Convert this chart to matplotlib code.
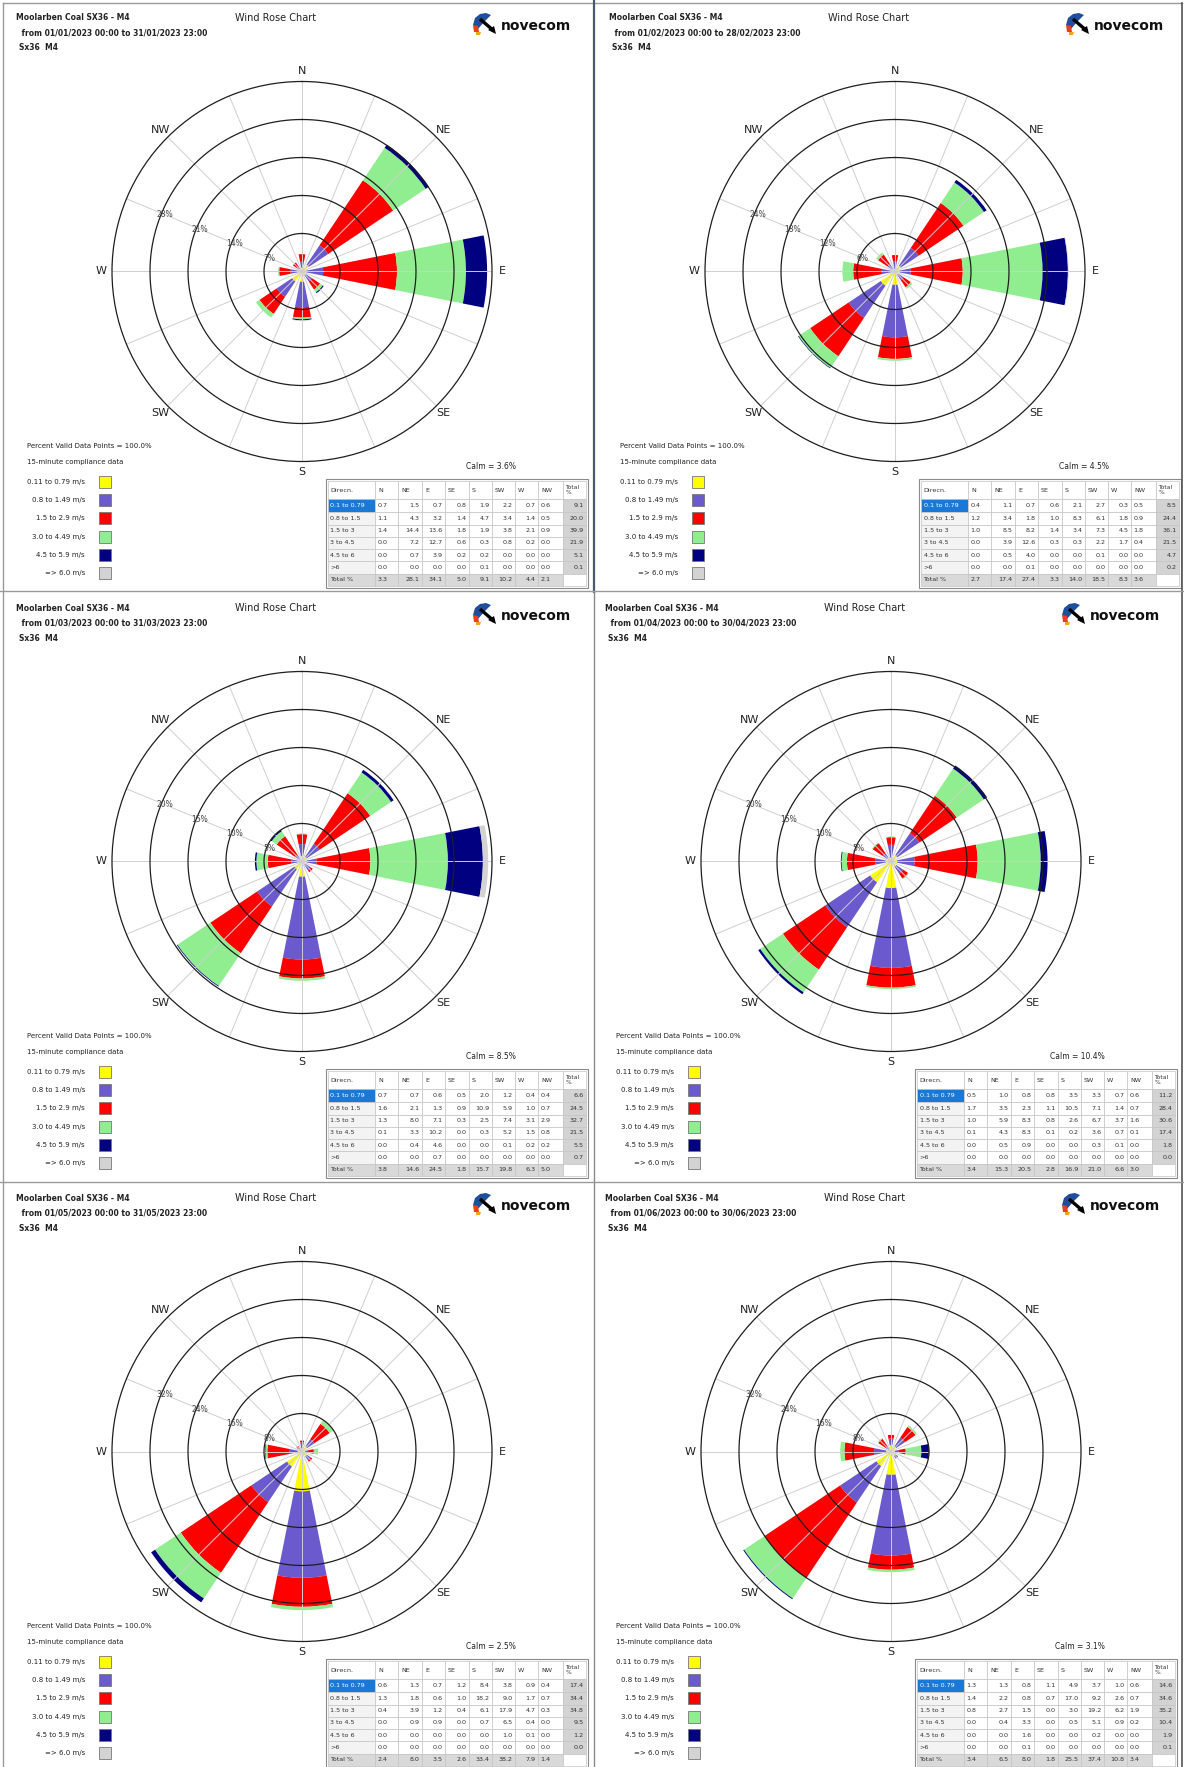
import numpy as np
import matplotlib.pyplot as plt
from matplotlib.patches import Rectangle, Polygon

# figure size in pixels
W, H = 1184, 1767

directions = ["N", "NE", "E", "SE", "S", "SW", "W", "NW"]
bearings = [0, 45, 90, 135, 180, 225, 270, 315]
speed_rows = ["0.1 to 0.79", "0.8 to 1.5", "1.5 to 3", "3 to 4.5", "4.5 to 6", ">6"]
legend_labels = ["0.11 to 0.79 m/s", "0.8 to 1.49 m/s", "1.5 to 2.9 m/s",
                 "3.0 to 4.49 m/s", "4.5 to 5.9 m/s", "=> 6.0 m/s"]
speed_colors = ["#ffff00", "#6a5acd", "#ff0000", "#90ee90", "#000080", "#d3d3d3"]

periods = ["01/01/2023 00:00 to 31/01/2023 23:00",
           "01/02/2023 00:00 to 28/02/2023 23:00",
           "01/03/2023 00:00 to 31/03/2023 23:00",
           "01/04/2023 00:00 to 30/04/2023 23:00",
           "01/05/2023 00:00 to 31/05/2023 23:00",
           "01/06/2023 00:00 to 30/06/2023 23:00"]
calm = [3.6, 4.5, 8.5, 10.4, 2.5, 3.1]
ring_step = [7, 6, 5, 5, 8, 8]

# % frequency, rows = speed classes, cols = N NE E SE S SW W NW
jan = [[0.7, 1.5, 0.7, 0.8, 1.9, 2.2, 0.7, 0.6],
       [1.1, 4.3, 3.2, 1.4, 4.7, 3.4, 1.4, 0.5],
       [1.4, 14.4, 13.6, 1.8, 1.9, 3.8, 2.1, 0.9],
       [0.0, 7.2, 12.7, 0.6, 0.3, 0.8, 0.2, 0.0],
       [0.0, 0.7, 3.9, 0.2, 0.2, 0.0, 0.0, 0.0],
       [0.0, 0.0, 0.0, 0.0, 0.1, 0.0, 0.0, 0.0]]
jan_row_tot = [9.1, 20.0, 39.9, 21.9, 5.1, 0.1]
jan_col_tot = [3.3, 28.1, 34.1, 5.0, 9.1, 10.2, 4.4, 2.1]

feb = [[0.4, 1.1, 0.7, 0.6, 2.1, 2.7, 0.3, 0.5],
       [1.2, 3.4, 1.8, 1.0, 8.3, 6.1, 1.8, 0.9],
       [1.0, 8.5, 8.2, 1.4, 3.4, 7.3, 4.5, 1.8],
       [0.0, 3.9, 12.6, 0.3, 0.3, 2.2, 1.7, 0.4],
       [0.0, 0.5, 4.0, 0.0, 0.0, 0.1, 0.0, 0.0],
       [0.0, 0.0, 0.1, 0.0, 0.0, 0.0, 0.0, 0.0]]
feb_row_tot = [8.5, 24.4, 36.1, 21.5, 4.7, 0.2]
feb_col_tot = [2.7, 17.4, 27.4, 3.3, 14.0, 18.5, 8.3, 3.6]

mar = [[0.7, 0.7, 0.6, 0.5, 2.0, 1.2, 0.4, 0.4],
       [1.6, 2.1, 1.3, 0.9, 10.9, 5.9, 1.0, 0.7],
       [1.3, 8.0, 7.1, 0.3, 2.5, 7.4, 3.1, 2.9],
       [0.1, 3.3, 10.2, 0.0, 0.3, 5.2, 1.5, 0.8],
       [0.0, 0.4, 4.6, 0.0, 0.0, 0.1, 0.2, 0.2],
       [0.0, 0.0, 0.7, 0.0, 0.0, 0.0, 0.0, 0.0]]
mar_row_tot = [6.6, 24.5, 32.7, 21.5, 5.5, 0.7]
mar_col_tot = [3.8, 14.6, 24.5, 1.8, 15.7, 19.8, 6.3, 5.0]

apr = [[0.5, 1.0, 0.8, 0.8, 3.5, 3.3, 0.7, 0.6],
       [1.7, 3.5, 2.3, 1.1, 10.5, 7.1, 1.4, 0.7],
       [1.0, 5.9, 8.3, 0.8, 2.6, 6.7, 3.7, 1.6],
       [0.1, 4.3, 8.3, 0.1, 0.2, 3.6, 0.7, 0.1],
       [0.0, 0.5, 0.9, 0.0, 0.0, 0.3, 0.1, 0.0],
       [0.0, 0.0, 0.0, 0.0, 0.0, 0.0, 0.0, 0.0]]
apr_row_tot = [11.2, 28.4, 30.6, 17.4, 1.8, 0.0]
apr_col_tot = [3.4, 15.3, 20.5, 2.8, 16.9, 21.0, 6.6, 3.0]

may = [[0.6, 1.3, 0.7, 1.2, 8.4, 3.8, 0.9, 0.4],
       [1.3, 1.8, 0.6, 1.0, 18.2, 9.0, 1.7, 0.7],
       [0.4, 3.9, 1.2, 0.4, 6.1, 17.9, 4.7, 0.3],
       [0.0, 0.9, 0.9, 0.0, 0.7, 6.5, 0.4, 0.0],
       [0.0, 0.0, 0.0, 0.0, 0.0, 1.0, 0.1, 0.0],
       [0.0, 0.0, 0.0, 0.0, 0.0, 0.0, 0.0, 0.0]]
may_row_tot = [17.4, 34.4, 34.8, 9.5, 1.2, 0.0]
may_col_tot = [2.4, 8.0, 3.5, 2.6, 33.4, 38.2, 7.9, 1.4]

jun = [[1.3, 1.3, 0.8, 1.1, 4.9, 3.7, 1.0, 0.6],
       [1.4, 2.2, 0.8, 0.7, 17.0, 9.2, 2.6, 0.7],
       [0.8, 2.7, 1.5, 0.0, 3.0, 19.2, 6.2, 1.9],
       [0.0, 0.4, 3.3, 0.0, 0.5, 5.1, 0.9, 0.2],
       [0.0, 0.0, 1.6, 0.0, 0.0, 0.2, 0.0, 0.0],
       [0.0, 0.0, 0.1, 0.0, 0.0, 0.0, 0.0, 0.0]]
jun_row_tot = [14.6, 34.6, 35.2, 10.4, 1.9, 0.1]
jun_col_tot = [3.4, 6.5, 8.0, 1.8, 25.5, 37.4, 10.8, 3.4]

months = [(jan, jan_row_tot, jan_col_tot), (feb, feb_row_tot, feb_col_tot),
          (mar, mar_row_tot, mar_col_tot), (apr, apr_row_tot, apr_col_tot),
          (may, may_row_tot, may_col_tot), (jun, jun_row_tot, jun_col_tot)]

# panel origins (pixels, top-left)
origins = [(0, 0), (593, 0), (0, 590), (589, 590), (0, 1180), (589, 1180)]

fig = plt.figure(figsize=(W / 100, H / 100), dpi=100)
fig.patch.set_facecolor("white")

# overlay axes in pixel coords for texts/tables
ov = fig.add_axes([0, 0, 1, 1])
ov.set_xlim(0, W)
ov.set_ylim(H, 0)
ov.axis("off")

txt = "#222222"


def draw_logo(x, y):
    # blue fan
    ov.add_patch(Polygon([(x, y + 12), (x + 2, y + 5), (x + 7, y + 1), (x + 13, y),
                          (x + 18, y + 2), (x + 11, y + 9), (x + 5, y + 16)],
                         color="#1f4e9c", lw=0))
    ov.plot([x + 7, x + 21], [y + 6, y + 18], color="black", lw=2.4, solid_capstyle="butt")
    ov.add_patch(Polygon([(x + 15, y + 17), (x + 23, y + 21), (x + 21, y + 13)], color="black", lw=0))
    ov.add_patch(Polygon([(x, y + 12), (x + 5, y + 13), (x + 6, y + 19), (x + 1, y + 19)],
                         color="#e8401c", lw=0))
    ov.add_patch(Polygon([(x + 3, y + 19), (x + 8, y + 19), (x + 7, y + 22), (x + 3, y + 22)],
                         color="#f7a21b", lw=0))
    ov.text(x + 28, y + 13, "novecom", fontsize=10, weight="bold", color="#111111", va="center")


def draw_table(ox, oy, data, row_tot, col_tot):
    xs = [328, 375, 398, 422, 445, 469, 492, 515, 538, 563, 586]
    ys = [481, 499, 512, 524.5, 536.5, 549, 561, 573.5, 586]
    xs = [ox + v for v in xs]
    ys = [oy + v for v in ys]
    nrow, ncol = len(ys) - 1, len(xs) - 1
    for r in range(nrow):
        for c in range(ncol):
            fc = "white"
            if c == ncol - 1 and r > 0 and r < nrow - 1:
                fc = "#d3d3d3"
            if r == nrow - 1 and c < ncol - 1:
                fc = "#d9d9d9"
            if c == 0 and 0 < r < nrow - 1:
                fc = "#f3f3f3"
            if r == 1 and c == 0:
                fc = "#1a78d6"
            ov.add_patch(Rectangle((xs[c], ys[r]), xs[c + 1] - xs[c], ys[r + 1] - ys[r],
                                   facecolor=fc, edgecolor="#c4c4c4", lw=0.5))
    ov.add_patch(Rectangle((xs[0] - 2, ys[0] - 2), xs[-1] - xs[0] + 4, ys[-1] - ys[0] + 4,
                           facecolor="none", edgecolor="#8a8a8a", lw=0.8))
    fs = 4.6
    tc = "#333333"

    def cell(r, c, s, color=tc):
        yc = (ys[r] + ys[r + 1]) / 2
        if c == 0 or c in (1, 8):
            ov.text(xs[c] + 2.5, yc, s, fontsize=fs, color=color, ha="left", va="center")
        else:
            ov.text(xs[c + 1] - 2.5, yc, s, fontsize=fs, color=color, ha="right", va="center")

    cell(0, 0, "Direcn.")
    for j, d in enumerate(directions):
        ov.text(xs[j + 1] + 3, (ys[0] + ys[1]) / 2, d, fontsize=fs, color=tc, ha="left", va="center")
    ov.text(xs[9] + 2.5, (ys[0] + ys[1]) / 2, "Total\n%", fontsize=fs - 0.3, color=tc,
            ha="left", va="center", linespacing=1.0)
    for i, lab in enumerate(speed_rows):
        cell(i + 1, 0, lab, "white" if i == 0 else tc)
        for j in range(8):
            cell(i + 1, j + 1, f"{data[i][j]:.1f}")
        cell(i + 1, 9, f"{row_tot[i]:.1f}")
    cell(nrow - 1, 0, "Total %")
    for j in range(8):
        cell(nrow - 1, j + 1, f"{col_tot[j]:.1f}")


for p, (ox, oy) in enumerate(origins):
    data, row_tot, col_tot = months[p]
    step = ring_step[p]
    rmax = 5 * step

    # header
    ov.text(ox + 16, oy + 18, "Moolarben Coal SX36 - M4", fontsize=5.5, weight="bold", color=txt, va="center")
    ov.text(ox + 19, oy + 33, " from " + periods[p], fontsize=5.5, weight="bold", color=txt, va="center")
    ov.text(ox + 19, oy + 48, "Sx36  M4", fontsize=5.5, weight="bold", color=txt, va="center")
    ov.text(ox + 235, oy + 18, "Wind Rose Chart", fontsize=7, color=txt, va="center")
    draw_logo(ox + 473, oy + 13)

    # legend
    ov.text(ox + 27, oy + 446, "Percent Valid Data Points = 100.0%", fontsize=5, color=txt, va="center")
    ov.text(ox + 27, oy + 462, "15-minute compliance data", fontsize=5, color=txt, va="center")
    for k, lab in enumerate(legend_labels):
        yy = oy + 482 + k * 18.2
        ov.text(ox + 85, yy, lab, fontsize=5, color=txt, ha="right", va="center")
        ov.add_patch(Rectangle((ox + 99, yy - 6), 12, 12, facecolor=speed_colors[k],
                               edgecolor="#777777", lw=0.6))
    ov.text(ox + 516, oy + 466, f"Calm = {calm[p]:.1f}%", fontsize=5.5, color=txt, ha="right", va="center")

    draw_table(ox, oy, data, row_tot, col_tot)

    # wind rose
    cx, cy, R = ox + 302, oy + 271.5, 190
    ax = fig.add_axes([(cx - R) / W, 1 - (cy + R) / H, 2 * R / W, 2 * R / H], projection="polar")
    ax.set_theta_zero_location("N")
    ax.set_theta_direction(-1)
    ax.patch.set_facecolor("none")
    theta = np.radians(bearings)
    bottom = np.zeros(len(bearings))
    for i in range(len(speed_rows)):
        vals = np.array(data[i])
        ax.bar(theta, vals, width=np.radians(22.5), bottom=bottom, color=speed_colors[i],
               lw=0, zorder=1)
        bottom += vals
    for a in range(16):
        ang = np.radians(a * 22.5)
        ax.plot([ang, ang], [0, rmax], color="#cfcfcf", lw=0.7, zorder=2)
    t = np.linspace(0, 2 * np.pi, 361)
    for k in range(1, 5):
        ax.plot(t, np.full_like(t, k * step), color="#1e1e1e", lw=0.9, zorder=3)
        ax.text(np.radians(292.5), k * step - 0.08 * step, f"{k * step}%", fontsize=5.5,
                color="#444444", ha="center", va="center", zorder=4)
    for d, b in zip(directions, bearings):
        ax.text(np.radians(b), rmax * 1.055, d, fontsize=8, color=txt, ha="center", va="center")
    ax.set_ylim(0, rmax)
    ax.set_xticks([])
    ax.set_yticks([])
    ax.grid(False)
    ax.spines["polar"].set_color("#1e1e1e")
    ax.spines["polar"].set_linewidth(0.9)

# panel borders
ov.plot([3, 3], [3, H], color="#9a9a9a", lw=1)
ov.plot([3, W - 2], [3, 3], color="#9a9a9a", lw=1)
ov.plot([W - 2, W - 2], [3, H], color="#555555", lw=1.2)
ov.plot([593.5, 593.5], [0, 592], color="#4a5a6e", lw=1.6)
ov.plot([593.5, 593.5], [592, H], color="#8a8a8a", lw=1.0)
ov.plot([0, W], [591.5, 591.5], color="#9a9a9a", lw=1.0)
ov.plot([0, W], [1181.5, 1181.5], color="#9a9a9a", lw=1.0)

fig.savefig("out.png", dpi=100)
